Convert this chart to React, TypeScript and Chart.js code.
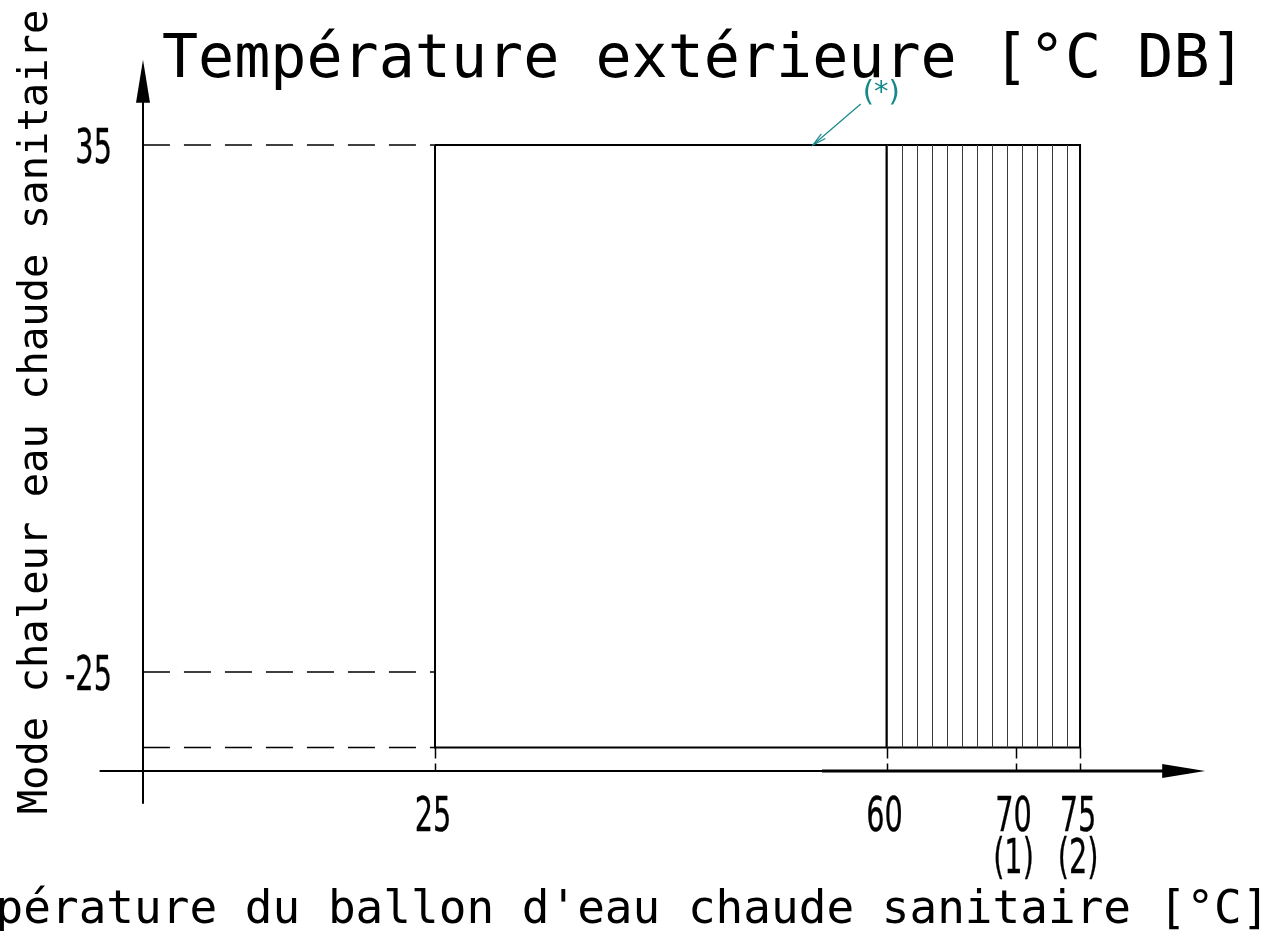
import React, { useEffect, useRef } from "react";
import { Chart, registerables } from "chart.js";

Chart.register(...registerables);

// ---------- data ----------
const xTickValues = [25, 60, 70, 75];
const xTickLabels = [["25"], ["60"], ["70", "(1)"], ["75", "(2)"]];
const yTickValues = [35, -25];
const yTickLabels = ["35", "-25"];

// operating range (water tank temperature vs outdoor temperature)
const rangeX = [25, 75, 75, 25, 25];
const rangeY = [35, 35, -33.6, -33.6, 35];
const lowerLimit = -33.6; // unlabeled lower outdoor limit
const guideLevels = [35, -25, -33.6];
const boostX = [60, 75]; // hatched zone
const boostTop = [35, 35];
const dividerX = [60, 60];
const dividerY = [35, -33.6];

// axis geometry in data units
const axisOriginX = 2.36;
const axisOriginY = -36.27;
const xAxisFrom = -1.0;
const xAxisTo = 84.7;
const yAxisFrom = -40;
const yAxisTo = 44.7;
const thickAxisFrom = 55;

// note "(*)"
const noteText = "(*)";
const noteTextAt = { x: 59.6, y: 40.9 };
const noteLineFrom = { x: 58.0, y: 39.67 };
const noteLineTo = { x: 54.3, y: 35 };

const titleText = "Température extérieure [°C DB]";
const xTitle = "Température du ballon d'eau chaude sanitaire [°C]";
const yTitle = "Mode chaleur eau chaude sanitaire";

const X_MIN = -8.72;
const X_MAX = 89.57;
const Y_MAX = 51.51;
const Y_MIN = -54.49;

const TEAL = "#16898a";

function hatchPattern(chart: any) {
  const x60 = chart.scales.x.getPixelForValue(boostX[0]);
  const period = 15;
  const c = document.createElement("canvas");
  c.width = period;
  c.height = 4;
  const g = c.getContext("2d")!;
  const off = ((Math.round(x60) % period) + period) % period;
  g.fillStyle = "#3a3a3a";
  g.fillRect(off, 0, 1, 4);
  return chart.ctx.createPattern(c, "repeat");
}

const drawingPlugin = {
  id: "drawing",
  afterDatasetsDraw(chart: any) {
    const { ctx } = chart;
    const xs = chart.scales.x;
    const ys = chart.scales.y;
    const px = (v: number) => xs.getPixelForValue(v);
    const py = (v: number) => ys.getPixelForValue(v);
    ctx.save();

    // x tick dashed marks
    ctx.strokeStyle = "#000";
    ctx.lineWidth = 1.5;
    ctx.setLineDash([11, 5]);
    xTickValues.forEach((v) => {
      ctx.beginPath();
      ctx.moveTo(Math.round(px(v)) + 0.5, py(lowerLimit));
      ctx.lineTo(Math.round(px(v)) + 0.5, py(axisOriginY));
      ctx.stroke();
    });
    ctx.setLineDash([]);

    // x axis
    const ay = Math.round(py(axisOriginY));
    const tipX = px(xAxisTo);
    ctx.lineWidth = 2;
    ctx.beginPath();
    ctx.moveTo(px(xAxisFrom), ay);
    ctx.lineTo(tipX - 40, ay);
    ctx.stroke();
    ctx.lineWidth = 3;
    ctx.beginPath();
    ctx.moveTo(px(thickAxisFrom), ay);
    ctx.lineTo(tipX - 40, ay);
    ctx.stroke();
    ctx.fillStyle = "#000";
    ctx.beginPath();
    ctx.moveTo(tipX, ay);
    ctx.lineTo(tipX - 43, ay - 7);
    ctx.lineTo(tipX - 43, ay + 7);
    ctx.closePath();
    ctx.fill();

    // y axis
    const ax = Math.round(px(axisOriginX));
    const tipY = py(yAxisTo);
    ctx.lineWidth = 2;
    ctx.beginPath();
    ctx.moveTo(ax, py(yAxisFrom));
    ctx.lineTo(ax, tipY + 40);
    ctx.stroke();
    ctx.beginPath();
    ctx.moveTo(ax, tipY);
    ctx.lineTo(ax - 7, tipY + 43);
    ctx.lineTo(ax + 7, tipY + 43);
    ctx.closePath();
    ctx.fill();

    // tick labels (narrow technical font)
    const tickFont = "48px 'DejaVu Sans'";
    const sx = 0.6;
    ctx.font = tickFont;
    ctx.lineWidth = 0.35;
    ctx.strokeStyle = "#000";
    ctx.textBaseline = "alphabetic";
    ctx.textAlign = "right";
    yTickValues.forEach((v, i) => {
      ctx.save();
      ctx.translate(112, py(v) + 18);
      ctx.scale(sx, 1);
      ctx.fillText(yTickLabels[i], 0, 0);
      ctx.strokeText(yTickLabels[i], 0, 0);
      ctx.restore();
    });
    ctx.textAlign = "center";
    xTickValues.forEach((v, i) => {
      xTickLabels[i].forEach((t, j) => {
        ctx.save();
        ctx.translate(px(v) - 2, 831 - 771 + ay + j * 42);
        ctx.scale(sx, 1);
        ctx.fillText(t, 0, 0);
        ctx.strokeText(t, 0, 0);
        ctx.restore();
      });
    });

    // titles
    ctx.fillStyle = "#000";
    ctx.textAlign = "left";
    ctx.font = "60px 'DejaVu Sans Mono'";
    ctx.fillText(titleText, 162, 77);

    ctx.textAlign = "center";
    ctx.font = "46px 'DejaVu Sans Mono'";
    ctx.fillText(xTitle, 591, 923);

    ctx.save();
    ctx.translate(47, 412);
    ctx.rotate(-Math.PI / 2);
    ctx.font = "40.5px 'DejaVu Sans Mono'";
    ctx.fillText(yTitle, 0, 0);
    ctx.restore();

    // note
    ctx.fillStyle = TEAL;
    ctx.strokeStyle = TEAL;
    ctx.font = "29px 'DejaVu Sans'";
    ctx.textAlign = "center";
    ctx.textBaseline = "middle";
    ctx.fillText(noteText, px(noteTextAt.x), py(noteTextAt.y));
    const x1 = px(noteLineFrom.x), y1 = py(noteLineFrom.y);
    const x2 = px(noteLineTo.x), y2 = py(noteLineTo.y);
    ctx.lineWidth = 1.2;
    ctx.beginPath();
    ctx.moveTo(x1, y1);
    ctx.lineTo(x2, y2);
    ctx.stroke();
    const ang = Math.atan2(y2 - y1, x2 - x1);
    const L = 14, W = 0.22;
    ctx.beginPath();
    ctx.moveTo(x2 - L * Math.cos(ang - W), y2 - L * Math.sin(ang - W));
    ctx.lineTo(x2, y2);
    ctx.lineTo(x2 - L * Math.cos(ang + W), y2 - L * Math.sin(ang + W));
    ctx.stroke();

    ctx.restore();
  },
};

export default function App() {
  const ref = useRef<HTMLCanvasElement | null>(null);
  useEffect(() => {
    if (!ref.current) return;
    const pts = (xs: number[], ys: number[]) => xs.map((x, i) => ({ x, y: ys[i] }));
    const base = { showLine: true, pointRadius: 0, clip: false as any, tension: 0 };
    const chart = new Chart(ref.current, {
      type: "scatter",
      data: {
        datasets: [
          {
            ...base,
            label: "hatch",
            data: pts(boostX, boostTop),
            borderWidth: 0,
            borderColor: "rgba(0,0,0,0)",
            backgroundColor: (c: any) =>
              c.chart.chartArea ? hatchPattern(c.chart) : "rgba(0,0,0,0)",
            fill: { value: lowerLimit },
          } as any,
          ...guideLevels.map((lv) => ({
            ...base,
            label: "guide " + lv,
            data: pts([axisOriginX, 25], [lv, lv]),
            borderColor: "#000",
            borderWidth: 1.5,
            borderDash: [27, 14],
            fill: false,
          })),
          {
            ...base,
            label: "divider",
            data: pts(dividerX, dividerY),
            borderColor: "#000",
            borderWidth: 2,
            fill: false,
          },
          {
            ...base,
            label: "range",
            data: pts(rangeX, rangeY),
            borderColor: "#000",
            borderWidth: 2,
            fill: false,
          },
        ],
      },
      options: {
        animation: false,
        responsive: false,
        maintainAspectRatio: false,
        layout: { padding: 0 },
        plugins: { legend: { display: false }, tooltip: { enabled: false }, title: { display: false } },
        scales: {
          x: { type: "linear", min: X_MIN, max: X_MAX, display: false },
          y: { type: "linear", min: Y_MIN, max: Y_MAX, display: false },
        },
      },
      plugins: [drawingPlugin],
    });
    return () => chart.destroy();
  }, []);
  return (
    <div style={{ position: "absolute", left: 0, top: 0, width: 1268, height: 931, background: "#fff" }}>
      <canvas ref={ref} width={1268} height={931} />
    </div>
  );
}
